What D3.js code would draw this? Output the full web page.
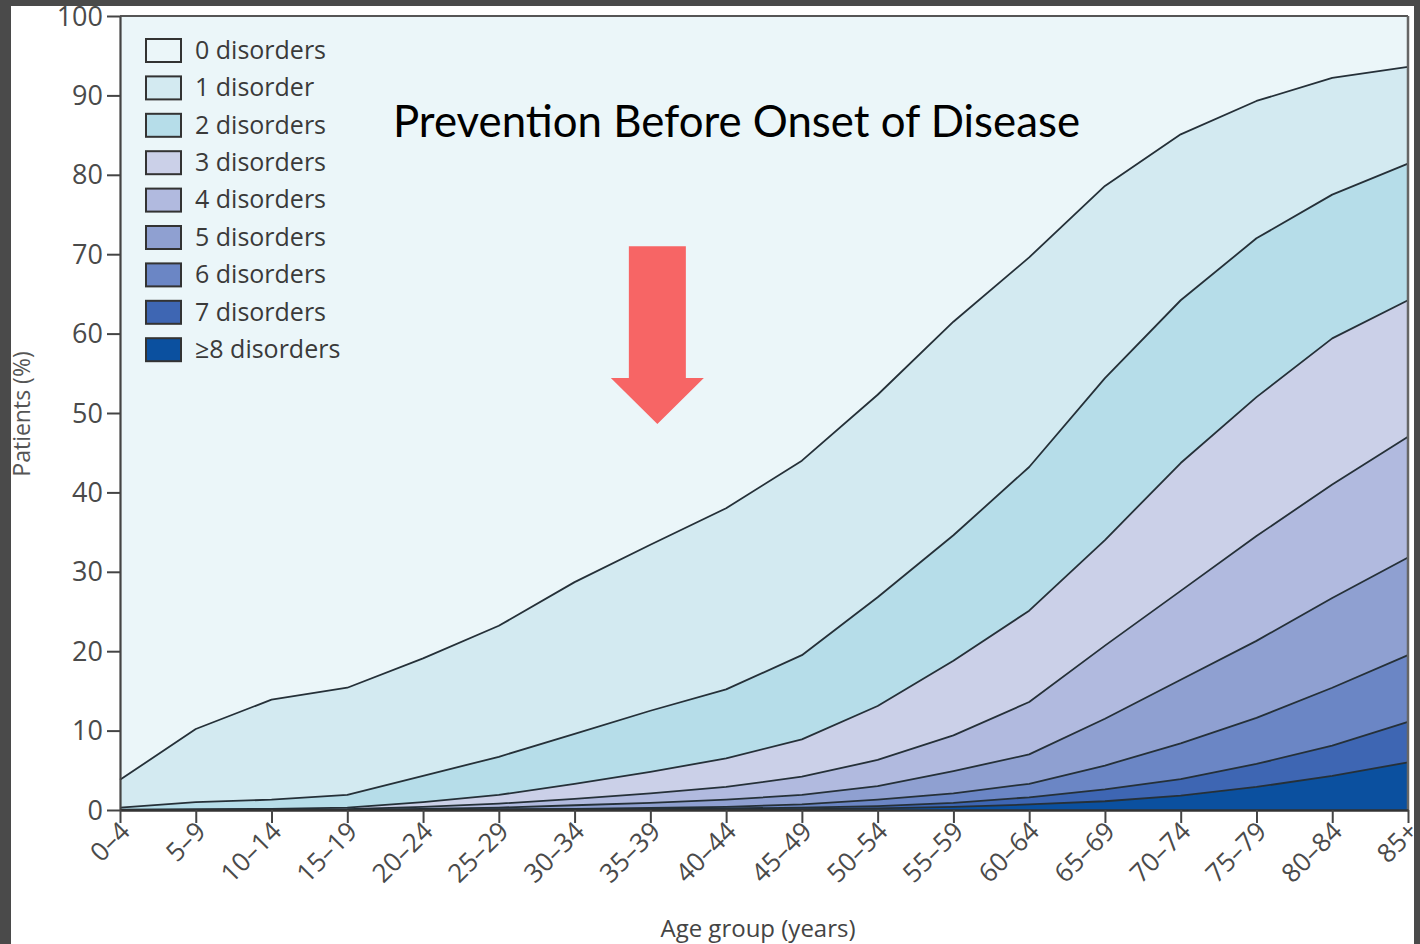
<!DOCTYPE html>
<html>
<head>
<meta charset="utf-8">
<script src="https://cdn.jsdelivr.net/npm/d3@7/dist/d3.min.js"></script>
<style>
  html, body { margin: 0; padding: 0; background: #4a4a4a; }
  svg { display: block; }
</style>
</head>
<body>
<svg id="chart" width="1420" height="944"></svg>
<script>
// ---------------- DATA ----------------
const ageGroups = ["0–4","5–9","10–14","15–19","20–24","25–29","30–34","35–39","40–44","45–49","50–54","55–59","60–64","65–69","70–74","75–79","80–84","85+"];
// Percentage of patients with at least k disorders (cumulative boundaries)
const atLeast1 = [3.8,10.2,13.9,15.4,19.1,23.2,28.7,33.4,38.0,44.0,52.3,61.5,69.6,78.6,85.1,89.3,92.2,93.6];
const atLeast2 = [0.3,1.0,1.3,1.9,4.3,6.7,9.6,12.5,15.2,19.5,26.8,34.6,43.2,54.4,64.2,72.0,77.5,81.4];
const atLeast3 = [0.05,0.1,0.15,0.3,1.0,1.9,3.3,4.8,6.5,8.9,13.1,18.8,25.1,34.0,43.7,52.0,59.4,64.2];
const atLeast4 = [0,0.02,0.05,0.1,0.4,0.8,1.4,2.1,2.9,4.2,6.3,9.4,13.6,20.7,27.6,34.5,41.0,47.0];
const atLeast5 = [0,0,0.02,0.05,0.15,0.3,0.6,0.9,1.3,1.9,3.0,4.9,7.0,11.5,16.4,21.3,26.7,31.8];
const atLeast6 = [0,0,0,0.02,0.05,0.1,0.15,0.25,0.4,0.7,1.3,2.1,3.3,5.6,8.4,11.6,15.4,19.5];
const atLeast7 = [0,0,0,0,0.02,0.04,0.06,0.1,0.2,0.3,0.5,0.9,1.6,2.6,3.9,5.8,8.1,11.1];
const atLeast8 = [0,0,0,0,0,0.01,0.02,0.04,0.08,0.12,0.2,0.4,0.7,1.1,1.8,2.9,4.3,6.0];

const categories = ["0 disorders","1 disorder","2 disorders","3 disorders","4 disorders","5 disorders","6 disorders","7 disorders","≥8 disorders"];
const colors = ["#ebf6f9","#d3eaf1","#b6dde9","#cbd0e8","#b1badf","#8fa0d1","#6b86c5","#3e66b3","#0b509f"];
const yTicks = [0,10,20,30,40,50,60,70,80,90,100];
const titleText = "Prevention Before Onset of Disease";
const xTitle = "Age group (years)";
const yTitle = "Patients (%)";

// ---------------- LAYOUT ----------------
const svg = d3.select("#chart");
const W = 1420, H = 944;
const plot = { left: 120, right: 1408, top: 16, bottom: 810 };

svg.append("rect").attr("x",0).attr("y",0).attr("width",W).attr("height",H).attr("fill","#4a4a4a");
svg.append("rect").attr("x",11).attr("y",6).attr("width",1403).attr("height",H-6).attr("fill","#ffffff");

const x = d3.scalePoint().domain(ageGroups).range([plot.left, plot.right]);
const y = d3.scaleLinear().domain([0,100]).range([plot.bottom, plot.top]);

const bounds = [ageGroups.map(()=>100), atLeast1, atLeast2, atLeast3, atLeast4, atLeast5, atLeast6, atLeast7, atLeast8, ageGroups.map(()=>0)];

const curve = d3.curveLinear;
// bands
for (let k = 0; k < 9; k++) {
  const upper = bounds[k], lower = bounds[k+1];
  const area = d3.area()
    .x((d,i)=>x(ageGroups[i]))
    .y0((d,i)=>y(lower[i]))
    .y1((d,i)=>y(upper[i]))
    .curve(curve);
  svg.append("path").datum(ageGroups).attr("d", area).attr("fill", colors[k]);
}
// boundary lines
for (let k = 1; k <= 8; k++) {
  const vals = bounds[k];
  const line = d3.line().x((d,i)=>x(ageGroups[i])).y((d,i)=>y(vals[i])).curve(curve);
  svg.append("path").datum(ageGroups).attr("d", line)
    .attr("fill","none").attr("stroke","#253038").attr("stroke-width",1.8)
    .attr("stroke-linejoin","round");
}

// plot frame top/right
svg.append("line").attr("x1",plot.left).attr("x2",plot.right).attr("y1",plot.top).attr("y2",plot.top)
  .attr("stroke","#555").attr("stroke-width",2);
svg.append("line").attr("x1",plot.right).attr("x2",plot.right).attr("y1",plot.top).attr("y2",plot.bottom)
  .attr("stroke","#666").attr("stroke-width",2.5);

const fontFam = "'Open Sans', 'Noto Sans', sans-serif";

// Y axis
const yAxis = svg.append("g").attr("transform",`translate(${plot.left},0)`)
  .call(d3.axisLeft(y).tickValues(yTicks).tickSize(13).tickPadding(4).tickSizeOuter(0));
yAxis.select(".domain").attr("stroke","#444").attr("stroke-width",2.2);
yAxis.selectAll(".tick line").attr("stroke","#444").attr("stroke-width",2);
yAxis.selectAll(".tick text").attr("font-family",fontFam).attr("font-size",27).attr("fill","#4a4a4a").attr("dy","0.34em");

// X axis
const xAxis = svg.append("g").attr("transform",`translate(0,${plot.bottom})`)
  .call(d3.axisBottom(x).tickSize(13).tickSizeOuter(0));
xAxis.select(".domain").attr("stroke","#333").attr("stroke-width",2.5);
xAxis.selectAll(".tick line").attr("stroke","#444").attr("stroke-width",2);
xAxis.selectAll(".tick text")
  .attr("font-family",fontFam).attr("font-size",26).attr("fill","#4a4a4a")
  .attr("text-anchor","end")
  .attr("transform","translate(0,12) rotate(-45)")
  .attr("x",0).attr("y",0).attr("dy","0.6em");

// Axis titles
svg.append("text").attr("x",758).attr("y",937).attr("text-anchor","middle")
  .attr("font-family",fontFam).attr("font-size",24).attr("fill","#444").text(xTitle);
svg.append("text").attr("transform","translate(30,414) rotate(-90)").attr("text-anchor","middle")
  .attr("font-family",fontFam).attr("font-size",23).attr("fill","#555").text(yTitle);

// Legend
const legend = svg.append("g");
categories.forEach((c,i)=>{
  const cy = 50 + i*37.4;
  legend.append("rect").attr("x",146).attr("y",cy-11).attr("width",35).attr("height",23)
    .attr("fill",colors[i]).attr("stroke","#333").attr("stroke-width",2);
  legend.append("text").attr("x",195).attr("y",cy).attr("dy","0.35em")
    .attr("font-family",fontFam).attr("font-size",25).attr("fill","#3a3a3a").text(c);
});

// Annotation title
svg.append("text").attr("x",393).attr("y",137)
  .attr("font-family","Lato, 'Open Sans', sans-serif").attr("font-size",44).attr("fill","#000")
  .attr("textLength",687).attr("lengthAdjust","spacingAndGlyphs").text(titleText);

// Arrow (positioned in data units)
const ax = x("35–39") + 7;
const shaftHalf = 28.5, headHalf = 46.5;
const yTop = y(71.0), yHead = y(54.4), yTip = y(48.6);
svg.append("polygon")
  .attr("points", [
    [ax-shaftHalf,yTop],[ax+shaftHalf,yTop],[ax+shaftHalf,yHead],[ax+headHalf,yHead],
    [ax,yTip],[ax-headHalf,yHead],[ax-shaftHalf,yHead]
  ].map(p=>p.join(",")).join(" "))
  .attr("fill","#f76565");
</script>
</body>
</html>
